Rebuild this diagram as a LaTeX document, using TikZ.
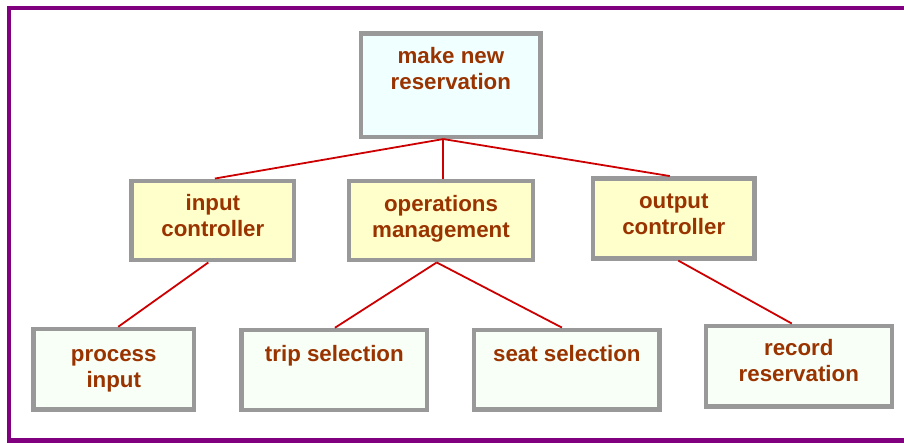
\documentclass[tikz,border=0pt]{standalone}
\usepackage{fontspec}
\setmainfont{Liberation Sans}
\begin{document}
\definecolor{framepurple}{HTML}{800080}
\definecolor{boxgray}{HTML}{999999}
\definecolor{labelbrown}{HTML}{993300}
\definecolor{linkred}{HTML}{CC0000}
\definecolor{topfill}{HTML}{F0FFFF}
\definecolor{midfill}{HTML}{FFFFCC}
\definecolor{lowfill}{HTML}{F7FFF7}
\begin{tikzpicture}[x=1pt,y=-1pt,
  box/.style={draw=boxgray, line width=4.5pt, rectangle, inner sep=0pt},
  lbl/.style={text=labelbrown, font=\fontsize{22.3}{26}\selectfont\bfseries,
              align=center, inner sep=0pt, anchor=base},
  link/.style={draw=linkred, line width=1.8pt}]
\useasboundingbox (0,0) rectangle (904,442);

% outer frame (right side runs past the page edge)
\draw[framepurple, line width=4.3pt] (930,8) -- (8.8,8) -- (8.8,440.5) -- (930,440.5);

% boxes
\node[box, fill=topfill, minimum width=179.7pt, minimum height=103.3pt] (top)  at (450.85,85.15) {};
\node[box, fill=midfill, minimum width=162.3pt, minimum height=79.4pt]  (inp)  at (212.85,220.5) {};
\node[box, fill=midfill, minimum width=183.6pt, minimum height=79.4pt]  (ops)  at (441,220.5) {};
\node[box, fill=midfill, minimum width=161.5pt, minimum height=80pt]    (out)  at (673.75,218.3) {};
\node[box, fill=lowfill, minimum width=160.5pt, minimum height=80.5pt]  (proc) at (113.75,369.25) {};
\node[box, fill=lowfill, minimum width=185.3pt, minimum height=79.8pt]  (trip) at (334.35,369.9) {};
\node[box, fill=lowfill, minimum width=185.3pt, minimum height=79.5pt]  (seat) at (566.85,369.55) {};
\node[box, fill=lowfill, minimum width=186pt,   minimum height=80.9pt]  (rec)  at (798.8,366.25) {};

% labels (base anchor = baseline of the last line)
\node[lbl] (topT)  at (450.85,89)    {make new\\reservation};
\node[lbl] (inpT)  at (212.85,236.5) {input\\controller};
\node[lbl] (opsT)  at (441,237)      {operations\\management};
\node[lbl] (outT)  at (673.75,234.8) {output\\controller};
\node[lbl] (procT) at (113.75,387)   {process\\input};
\node[lbl] (tripT) at (334.35,361)   {trip selection};
\node[lbl] (seatT) at (566.85,361)   {seat selection};
\node[lbl] (recT)  at (798.8,381.5)  {record\\reservation};

% connectors
\coordinate (j) at ([xshift=-7.5pt]top.south);
\draw[link] (j) -- ([xshift=2pt]inp.north);
\draw[link] (j) -- (j |- ops.north);
\draw[link] (j) -- ([xshift=-4pt]out.north);
\draw[link] ([xshift=-4.5pt]inp.south) -- ([xshift=4.5pt]proc.north);
\draw[link] ([xshift=-4.3pt]ops.south) -- ([xshift=0.6pt]trip.north);
\draw[link] ([xshift=-4.3pt]ops.south) -- ([xshift=-5pt]seat.north);
\draw[link] ([xshift=4.5pt]out.south) -- ([xshift=-7pt]rec.north);
\end{tikzpicture}
\end{document}
